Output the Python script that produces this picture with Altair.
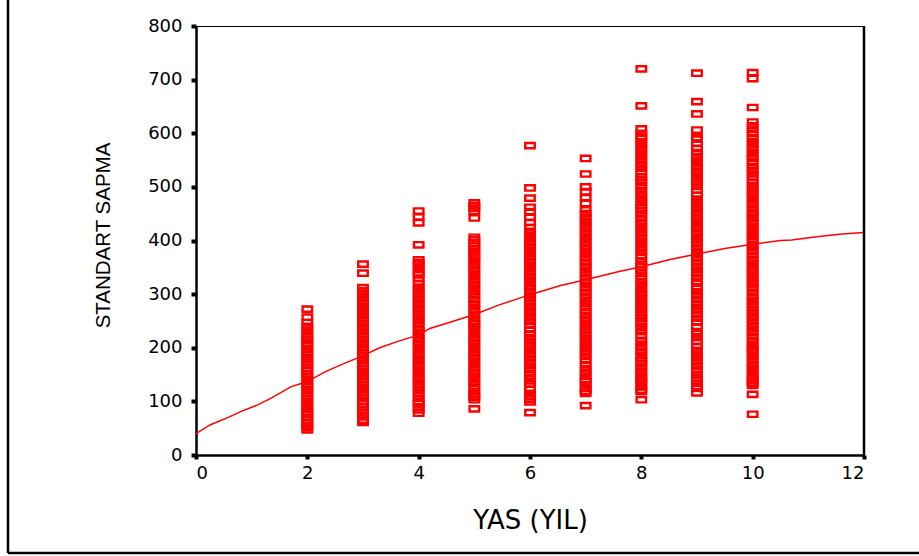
import altair as alt
import pandas as pd

# ---- data ----
ages = [2, 3, 4, 5, 6, 7, 8, 9, 10]

sd_age2 = [272, 257, 247, 240, 233, 226, 220, 214, 208, 203, 197, 191, 186, 180, 174, 168, 162, 157, 151,
           145, 139, 133, 128, 122, 116, 110, 104, 98, 92, 86, 80, 76, 70, 65, 60, 55, 51, 47]
sd_age3 = [356, 339, 312, 306, 300, 294, 287, 281, 275, 268, 262, 256, 250, 244, 238, 232, 226, 220, 214,
           208, 202, 196, 190, 184, 178, 172, 166, 160, 154, 148, 142, 136, 130, 124, 118, 112, 106, 100,
           95, 90, 84, 78, 72, 65, 61]
sd_age4 = [455, 444, 433, 392, 364, 359, 354, 346, 340, 336, 329, 320, 313, 306, 299, 292, 285, 278, 271,
           264, 257, 250, 243, 236, 229, 222, 215, 208, 201, 194, 187, 180, 174, 167, 160, 153, 146, 140,
           133, 127, 121, 114, 106, 100, 96, 90, 84, 78]
sd_age5 = [470, 465, 460, 454, 442, 406, 401, 395, 390, 384, 377, 372, 367, 360, 353, 346, 339, 332, 325,
           318, 311, 304, 297, 290, 283, 276, 269, 262, 255, 249, 244, 238, 231, 224, 217, 210, 203, 196,
           189, 182, 175, 168, 161, 154, 147, 140, 133, 126, 118, 112, 108, 103, 86]
sd_age6 = [577, 498, 479, 462, 454, 443, 434, 424, 417, 410, 403, 396, 389, 382, 375, 368, 361, 354, 347,
           340, 333, 326, 319, 312, 305, 298, 291, 284, 277, 270, 263, 256, 249, 242, 234, 226, 219, 212,
           206, 201, 194, 187, 180, 173, 166, 159, 152, 145, 138, 132, 123, 115, 109, 104, 99, 79]
sd_age7 = [553, 524, 500, 491, 480, 469, 457, 450, 443, 436, 429, 422, 415, 408, 401, 394, 387, 380, 373,
           366, 359, 352, 345, 338, 331, 324, 317, 310, 303, 296, 289, 282, 275, 267, 260, 253, 246, 239,
           232, 225, 218, 211, 204, 198, 191, 184, 177, 168, 161, 154, 147, 141, 137, 130, 124, 119, 115, 92]
sd_age8 = [720, 651, 608, 600, 594, 590, 583, 577, 570, 563, 556, 549, 542, 535, 528, 519, 513, 508, 500,
           493, 486, 479, 472, 465, 460, 455, 448, 441, 434, 427, 420, 413, 406, 399, 392, 385, 378, 371,
           362, 356, 351, 345, 339, 332, 324, 318, 311, 304, 298, 292, 286, 280, 273, 267, 261, 255, 249,
           244, 237, 230, 222, 214, 207, 200, 193, 186, 180, 175, 170, 163, 156, 149, 144, 140, 134, 127,
           121, 118, 103]
sd_age9 = [712, 659, 636, 606, 592, 589, 581, 572, 564, 557, 550, 543, 536, 529, 522, 515, 508, 501, 494,
           484, 477, 471, 464, 457, 450, 443, 436, 429, 422, 415, 408, 401, 394, 387, 380, 373, 366, 359,
           352, 345, 338, 331, 324, 320, 311, 304, 297, 290, 283, 276, 269, 262, 255, 248, 239, 230, 226,
           219, 212, 202, 195, 188, 181, 174, 167, 160, 155, 149, 142, 134, 128, 124, 116]
sd_age10 = [713, 702, 648, 621, 614, 607, 600, 592, 585, 579, 572, 565, 558, 553, 545, 538, 531, 524, 517,
            509, 502, 495, 488, 481, 474, 467, 460, 453, 447, 441, 434, 427, 420, 413, 407, 400, 393, 386,
            379, 372, 365, 358, 351, 344, 337, 330, 323, 317, 310, 303, 296, 289, 282, 276, 270, 263, 256,
            249, 242, 235, 228, 221, 214, 207, 200, 195, 190, 183, 176, 169, 162, 156, 150, 143, 138, 134,
            130, 113, 76]

fit_x = [0, 0.25, 0.6, 0.8, 1.1, 1.35, 1.7, 2.0, 2.3, 2.6, 2.95, 3.3, 3.6, 4.0, 4.2, 4.55, 5.0, 5.45,
         6.0, 6.55, 7.0, 7.4, 7.6, 8.0, 8.5, 9.0, 9.5, 10.0, 10.5, 10.7, 11.15, 11.6, 12.0]
fit_y = [40, 56, 71, 81, 93, 106, 127, 137, 154, 168, 183, 200, 211, 224, 236, 247, 262, 280,
         299, 316, 327, 337, 342, 351, 364, 375, 385, 393, 400, 401, 407, 412, 415]

x_ticks = [0, 2, 4, 6, 8, 10, 12]
y_ticks = [0, 100, 200, 300, 400, 500, 600, 700, 800]

# ---- tables ----
columns = [sd_age2, sd_age3, sd_age4, sd_age5, sd_age6, sd_age7, sd_age8, sd_age9, sd_age10]
rows = []
for a, vals in zip(ages, columns):
    for v in vals:
        rows.append({"age": a, "sd": v})
pts_df = pd.DataFrame(rows)
fit_df = pd.DataFrame({"age": fit_x, "sd": fit_y})

WIDE = "DejaVu Sans"
RED = "#ff0000"

xscale = alt.Scale(domain=[0, 12], nice=False, zero=False)
yscale = alt.Scale(domain=[0, 800], nice=False)

xaxis = alt.Axis(values=x_ticks, format="d", title="YAS (YIL)", grid=False,
                 domainColor="black", domainWidth=2.5,
                 tickColor="black", tickWidth=4, tickSize=4,
                 labelFont=WIDE, labelFontSize=18, labelColor="black", labelPadding=5,
                 titleFont=WIDE, titleFontSize=26, titleFontWeight="normal", titleColor="black",
                 titleY=65, titleBaseline="middle")
yaxis = alt.Axis(values=y_ticks, format="d", title="STANDART SAPMA", grid=False,
                 domainColor="black", domainWidth=2.5,
                 tickColor="black", tickWidth=4, tickSize=5,
                 labelFont=WIDE, labelFontSize=18, labelColor="black", labelPadding=9,
                 titleFont="Liberation Sans",
                 titleFontSize=20.5, titleFontWeight="normal", titleColor="black",
                 titleX=-93, titleY=209, titleAngle=270, titleAlign="center", titleBaseline="middle")

RECT = "M-1,-0.56H1V0.56H-1Z"

points = alt.Chart(pts_df).mark_point(
    shape=RECT, size=90, filled=False, strokeWidth=2.4, color=RED, opacity=1
).encode(
    x=alt.X("age:Q", scale=xscale, axis=xaxis),
    y=alt.Y("sd:Q", scale=yscale, axis=yaxis),
)

line = alt.Chart(fit_df).mark_line(color=RED, strokeWidth=1.5).encode(
    x=alt.X("age:Q", scale=xscale),
    y=alt.Y("sd:Q", scale=yscale),
)

right_border = alt.Chart(pd.DataFrame({"a": [0]})).mark_rule(color="black", strokeWidth=2.5).encode(
    x=alt.value(668), y=alt.value(0), y2=alt.value(429)
)
frame_left = alt.Chart(pd.DataFrame({"a": [0]})).mark_rule(color="black", strokeWidth=2.5).encode(
    x=alt.value(-188), y=alt.value(-26), y2=alt.value(527)
)
frame_bottom = alt.Chart(pd.DataFrame({"a": [0]})).mark_rule(color="black", strokeWidth=2.5).encode(
    x=alt.value(-188), x2=alt.value(723), y=alt.value(527)
)

chart = alt.layer(points, line, right_border, frame_left, frame_bottom).properties(
    width=668, height=429,
    autosize=alt.AutoSizeParams(type="none"),
    padding={"left": 196, "top": 26, "right": 55, "bottom": 101},
    background="white",
).configure_view(stroke="black", strokeWidth=1)

chart.save("out.html", embed_options={"renderer": "svg", "actions": False})
